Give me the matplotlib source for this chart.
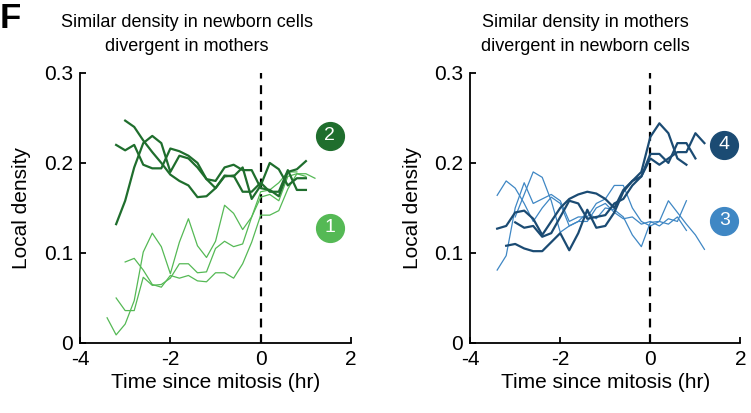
import matplotlib.pyplot as plt
import numpy as np

plt.rcParams['font.family'] = ['Liberation Sans', 'DejaVu Sans']
plt.rcParams['axes.unicode_minus'] = False

nan = np.nan
# time grid (hr since mitosis), 12 min frames
t_grid = [-3.4, -3.2, -3.0, -2.8, -2.6, -2.4, -2.2, -2.0, -1.8, -1.6, -1.4, -1.2,
          -1.0, -0.8, -0.6, -0.4, -0.2, 0.0, 0.2, 0.4, 0.6, 0.8, 1.0, 1.2]

# left panel, group 2 (dark green)
g2_a = [nan, 0.132, 0.158, 0.195, 0.222, 0.230, 0.222, 0.190, 0.208, 0.205, 0.195, 0.182,
        0.180, 0.195, 0.198, 0.192, 0.192, 0.172, 0.170, 0.163, 0.190, 0.193, 0.202, nan]
g2_b = [nan, 0.220, 0.214, 0.220, 0.198, 0.194, 0.194, 0.216, 0.213, 0.208, 0.200, 0.182,
        0.172, 0.186, 0.185, 0.195, 0.160, 0.175, 0.200, 0.193, 0.175, 0.183, 0.183, nan]
g2_c = [nan, nan, 0.247, 0.240, 0.225, 0.212, 0.200, 0.187, 0.180, 0.175, 0.162, 0.163,
        0.172, 0.185, 0.186, 0.168, 0.168, 0.178, 0.168, 0.168, 0.192, 0.170, 0.170, nan]
# left panel, group 1 (light green)
g1_a = [0.028, 0.009, 0.021, 0.047, 0.101, 0.122, 0.107, 0.077, 0.112, 0.138, 0.108, 0.095,
        0.113, 0.153, 0.144, 0.126, 0.140, 0.162, 0.165, 0.158, 0.185, 0.188, 0.188, 0.183]
g1_b = [nan, 0.050, 0.036, 0.036, 0.073, 0.064, 0.065, 0.072, 0.088, 0.088, 0.078, 0.079,
        0.105, 0.113, 0.107, 0.110, 0.140, 0.168, 0.170, 0.178, 0.190, 0.190, nan, nan]
g1_c = [nan, nan, 0.090, 0.094, 0.081, 0.065, 0.062, 0.075, 0.072, 0.075, 0.069, 0.068,
        0.078, 0.078, 0.072, 0.088, 0.112, 0.142, 0.142, 0.147, 0.171, 0.188, 0.185, nan]

# right panel, group 4 (dark blue)
b4_a = [0.127, 0.130, 0.145, 0.147, 0.138, 0.120, 0.135, 0.150, 0.160, 0.165, 0.168, 0.166,
        0.160, 0.150, 0.170, 0.180, 0.190, 0.229, 0.244, 0.233, 0.205, 0.198, nan, nan]
b4_b = [nan, 0.108, 0.110, 0.105, 0.102, 0.102, 0.112, 0.122, 0.103, 0.122, 0.148, 0.128,
        0.130, 0.145, 0.168, 0.180, 0.185, 0.210, 0.210, 0.200, 0.222, 0.222, 0.205, nan]
b4_c = [nan, nan, 0.134, 0.128, 0.130, 0.118, 0.122, 0.140, 0.158, 0.155, 0.138, 0.140,
        0.142, 0.155, 0.160, 0.175, 0.185, 0.205, 0.198, 0.205, 0.212, 0.212, 0.233, 0.222]
# right panel, group 3 (light blue)
b3_a = [0.164, 0.180, 0.172, 0.155, 0.135, 0.150, 0.162, 0.155, 0.130, 0.135, 0.145, 0.138,
        0.150, 0.148, 0.140, 0.120, 0.107, 0.134, 0.135, 0.132, 0.140, 0.125, nan, nan]
b3_b = [0.081, 0.097, 0.150, 0.178, 0.155, 0.160, 0.165, 0.158, 0.135, 0.140, 0.140, 0.155,
        0.160, 0.175, 0.175, 0.150, 0.135, 0.130, 0.135, 0.158, 0.145, 0.132, 0.120, 0.104]
b3_c = [nan, nan, 0.140, 0.165, 0.190, 0.184, 0.158, 0.123, 0.130, 0.135, 0.135, 0.150,
        0.155, 0.145, 0.138, 0.140, 0.132, 0.135, 0.130, 0.138, 0.135, 0.158, nan, nan]

dark_green = '#1f6e2d'
light_green = '#55b955'
dark_blue = '#1b4b73'
light_blue = '#3f87c4'

fig = plt.figure(figsize=(7.51, 4.13), dpi=100)
ax1 = fig.add_axes([0.1065, 0.1695, 0.361, 0.654])
ax2 = fig.add_axes([0.626, 0.1695, 0.360, 0.654])

def style(ax):
    ax.set_xlim(-4, 2)
    ax.set_ylim(0, 0.3)
    ax.set_xticks([-4, -2, 0, 2])
    ax.set_yticks([0, 0.1, 0.2, 0.3])
    ax.set_yticklabels(['0', '0.1', '0.2', '0.3'])
    ax.spines['top'].set_visible(False)
    ax.spines['right'].set_visible(False)
    for s in ['left', 'bottom']:
        ax.spines[s].set_linewidth(1.3)
    ax.tick_params(direction='in', length=4, width=1.3, labelsize=15, pad=5)
    ax.axvline(0, color='black', linestyle=(0, (4, 3)), linewidth=1.6, zorder=1)
    ax.set_xlabel('Time since mitosis (hr)', fontsize=15, labelpad=3)
    ax.set_ylabel('Local density', fontsize=15, labelpad=9)

def badge(ax, x, y, txt, col):
    ax.plot(x, y, 'o', markersize=20, color=col, clip_on=False, zorder=5)
    ax.text(x, y, txt, color='white', fontsize=14, ha='center', va='center',
            zorder=6, clip_on=False)

for v in [g1_a, g1_b, g1_c]:
    ax1.plot(t_grid, v, color=light_green, linewidth=0.9, zorder=2)
for v in [g2_a, g2_b, g2_c]:
    ax1.plot(t_grid, v, color=dark_green, linewidth=1.6, zorder=3)
for v in [b3_a, b3_b, b3_c]:
    ax2.plot(t_grid, v, color=light_blue, linewidth=0.9, zorder=2)
for v in [b4_a, b4_b, b4_c]:
    ax2.plot(t_grid, v, color=dark_blue, linewidth=1.6, zorder=3)

style(ax1)
style(ax2)

badge(ax1, 1.53, 0.230, '2', dark_green)
badge(ax1, 1.53, 0.128, '1', light_green)
badge(ax2, 1.64, 0.220, '4', dark_blue)
badge(ax2, 1.64, 0.136, '3', light_blue)

ax1.text(0.395, 1.065, 'Similar density in newborn cells\ndivergent in mothers',
         transform=ax1.transAxes, ha='center', va='bottom', fontsize=13,
         linespacing=1.6)
ax2.text(0.426, 1.065, 'Similar density in mothers\ndivergent in newborn cells',
         transform=ax2.transAxes, ha='center', va='bottom', fontsize=13,
         linespacing=1.6)
fig.text(0.0, 0.932, 'F', fontsize=25, fontweight='bold', ha='left', va='baseline')

fig.savefig('out.png', dpi=100)
